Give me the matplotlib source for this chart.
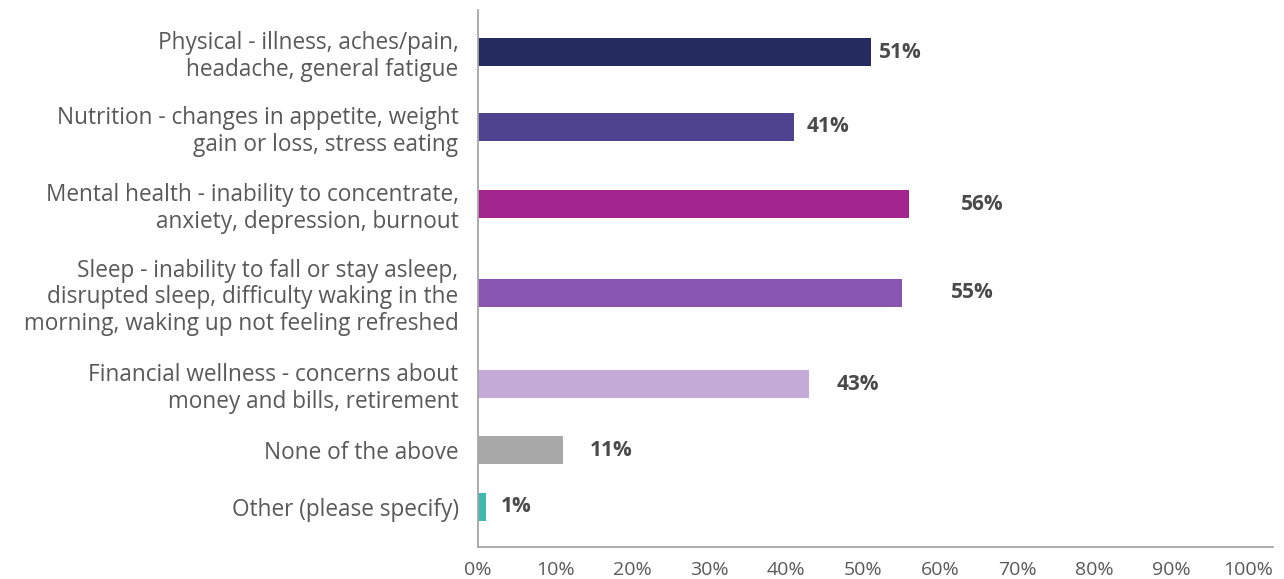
"""Horizontal bar chart: wellness areas affected (share of respondents)."""

import matplotlib

matplotlib.use("Agg")
import matplotlib.pyplot as plt

categories = [
    "Physical - illness, aches/pain,\nheadache, general fatigue",
    "Nutrition - changes in appetite, weight\ngain or loss, stress eating",
    "Mental health - inability to concentrate,\nanxiety, depression, burnout",
    "Sleep - inability to fall or stay asleep,\ndisrupted sleep, difficulty waking in the\nmorning, waking up not feeling refreshed",
    "Financial wellness - concerns about\nmoney and bills, retirement",
    "None of the above",
    "Other (please specify)",
]
values = [51, 41, 56, 55, 43, 11, 1]
value_labels = ["51%", "41%", "56%", "55%", "43%", "11%", "1%"]
tick_values = [0, 10, 20, 30, 40, 50, 60, 70, 80, 90, 100]
tick_labels = ["0%", "10%", "20%", "30%", "40%", "50%", "60%", "70%", "80%", "90%", "100%"]

# layout (pixel rows of the original picture, axis runs top-down)
ROW_Y = [52, 127, 204, 293, 384, 450, 507]
LABEL_GAP = [1.1, 1.7, 6.7, 6.4, 3.6, 3.5, 1.9]
COLORS = ["#252b5f", "#4f4390", "#a3268f", "#8855b0", "#c4aad7", "#a8a8a8", "#3fb8ad"]
TEXT = "#595959"

plt.rcParams["font.family"] = ["Open Sans", "DejaVu Sans"]

fig = plt.figure(figsize=(12.84, 5.79), dpi=100)
ax = fig.add_axes([478 / 1284, 1 - 547 / 579, (1273 - 478) / 1284, (547 - 10) / 579])

ax.barh(ROW_Y, values, height=28, color=COLORS)
for y, v, lab, gap in zip(ROW_Y, values, value_labels, LABEL_GAP):
    ax.text(v + gap, y, lab, va="center", ha="left", fontsize=15,
            fontweight="bold", color="#4a4a4a")

ax.set_ylim(547, 10)
ax.set_xlim(0, (1273 - 478) / 7.7)
ax.set_yticks(ROW_Y)
ax.set_yticklabels(categories, fontsize=16.3, color=TEXT, linespacing=1.15)
ax.set_xticks(tick_values)
ax.set_xticklabels(tick_labels, fontsize=14, color=TEXT)
ax.tick_params(axis="both", length=0)
ax.tick_params(axis="x", pad=10)
ax.tick_params(axis="y", pad=14)
for lbl in ax.get_yticklabels():
    lbl.set_horizontalalignment("right")
    lbl.set_multialignment("right")

for side in ("top", "right"):
    ax.spines[side].set_visible(False)
for side in ("left", "bottom"):
    ax.spines[side].set_color("#a6a6a6")
    ax.spines[side].set_linewidth(1.3)

fig.savefig("out.png", dpi=100)
